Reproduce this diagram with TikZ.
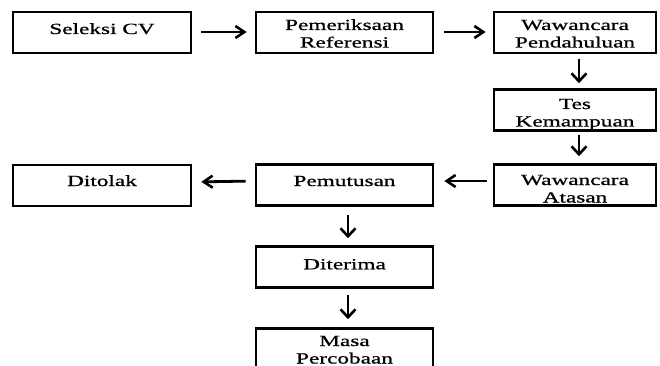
\documentclass[tikz,border=0pt]{standalone}
\usepackage{fontspec}
\setmainfont{Liberation Serif}[FakeStretch=1.5,FakeBold=0.8]
\usetikzlibrary{arrows.meta}
\newcommand\twolines[2]{\vtop{\baselineskip=17.5pt\lineskiplimit=-30pt\halign{\hfil##\hfil\cr#1\cr#2\cr}}}
\begin{document}
\begin{tikzpicture}[x=1pt,y=-1pt,
  box/.style={draw,line width=2.6pt,rectangle,inner sep=0pt,align=center,
    text height=10pt,text depth=10pt,
    font=\fontsize{15.5}{17.5}\selectfont},
  wide/.style={minimum width=178pt,minimum height=41pt},
  mid/.style={minimum width=177pt,minimum height=41pt},
  right/.style={minimum width=162pt,minimum height=41pt},
  hflow/.style={line width=2.8pt,-{Straight Barb[length=9pt,width=12pt,line width=2.6pt]}},
  vflow/.style={line width=2.8pt,-{Straight Barb[length=8pt,width=15pt,line width=2.6pt]}}]
\clip (0,0) rectangle (660,366);
\fill[white] (0,0) rectangle (660,366);
% row 1
\node[box,wide] (seleksi) at (102,32.5) {\raisebox{-1.5pt}{Seleksi CV}};
\node[box,mid] (referensi) at (344.5,32.5) {\raisebox{2.5pt}{\twolines{Pemeriksaan}{Referensi}}};
\node[box,right] (pendahuluan) at (575,32.5) {\raisebox{2.5pt}{\twolines{Wawancara}{Pendahuluan}}};
% right column
\node[box,right] (tes) at (575,110) {\raisebox{1pt}{\twolines{Tes}{Kemampuan}}};
\node[box,right] (atasan) at (575,185) {\raisebox{0pt}{\twolines{Wawancara}{Atasan}}};
% row 3
\node[box,mid] (pemutusan) at (344.5,185) {\raisebox{-1pt}{Pemutusan}};
\node[box,wide] (ditolak) at (102,185.5) {\raisebox{-0.5pt}{Ditolak}};
% middle column
\node[box,mid] (diterima) at (344.5,267) {\raisebox{-2.3pt}{Diterima}};
\node[box,mid] (masa) at (344.5,349) {\raisebox{3pt}{\twolines{Masa}{Percobaan}}};
% connectors
\draw[hflow,shorten <=9pt,shorten >=8pt] ([yshift=0.5pt]seleksi.east) -- ([yshift=0.5pt]referensi.west);
\draw[hflow,shorten <=10pt,shorten >=7pt] ([yshift=0.5pt]referensi.east) -- ([yshift=0.5pt]pendahuluan.west);
\draw[vflow,shorten <=5pt,shorten >=5pt] ([xshift=4pt]pendahuluan.south) -- ([xshift=4pt]tes.north);
\draw[vflow,shorten <=3pt,shorten >=7pt] ([xshift=4pt]tes.south) -- ([xshift=4pt]atasan.north);
\draw[hflow,shorten <=6pt,shorten >=10pt] ([yshift=4pt]atasan.west) -- ([yshift=4pt]pemutusan.east);
\draw[hflow,shorten <=9pt,shorten >=9pt] ([yshift=4pt]pemutusan.west) -- ([yshift=3.5pt]ditolak.east);
\draw[vflow,shorten <=8pt,shorten >=7pt] ([xshift=3.5pt]pemutusan.south) -- ([xshift=3.5pt]diterima.north);
\draw[vflow,shorten <=6pt,shorten >=8pt] ([xshift=3.5pt]diterima.south) -- ([xshift=3.5pt]masa.north);
\end{tikzpicture}
\end{document}
